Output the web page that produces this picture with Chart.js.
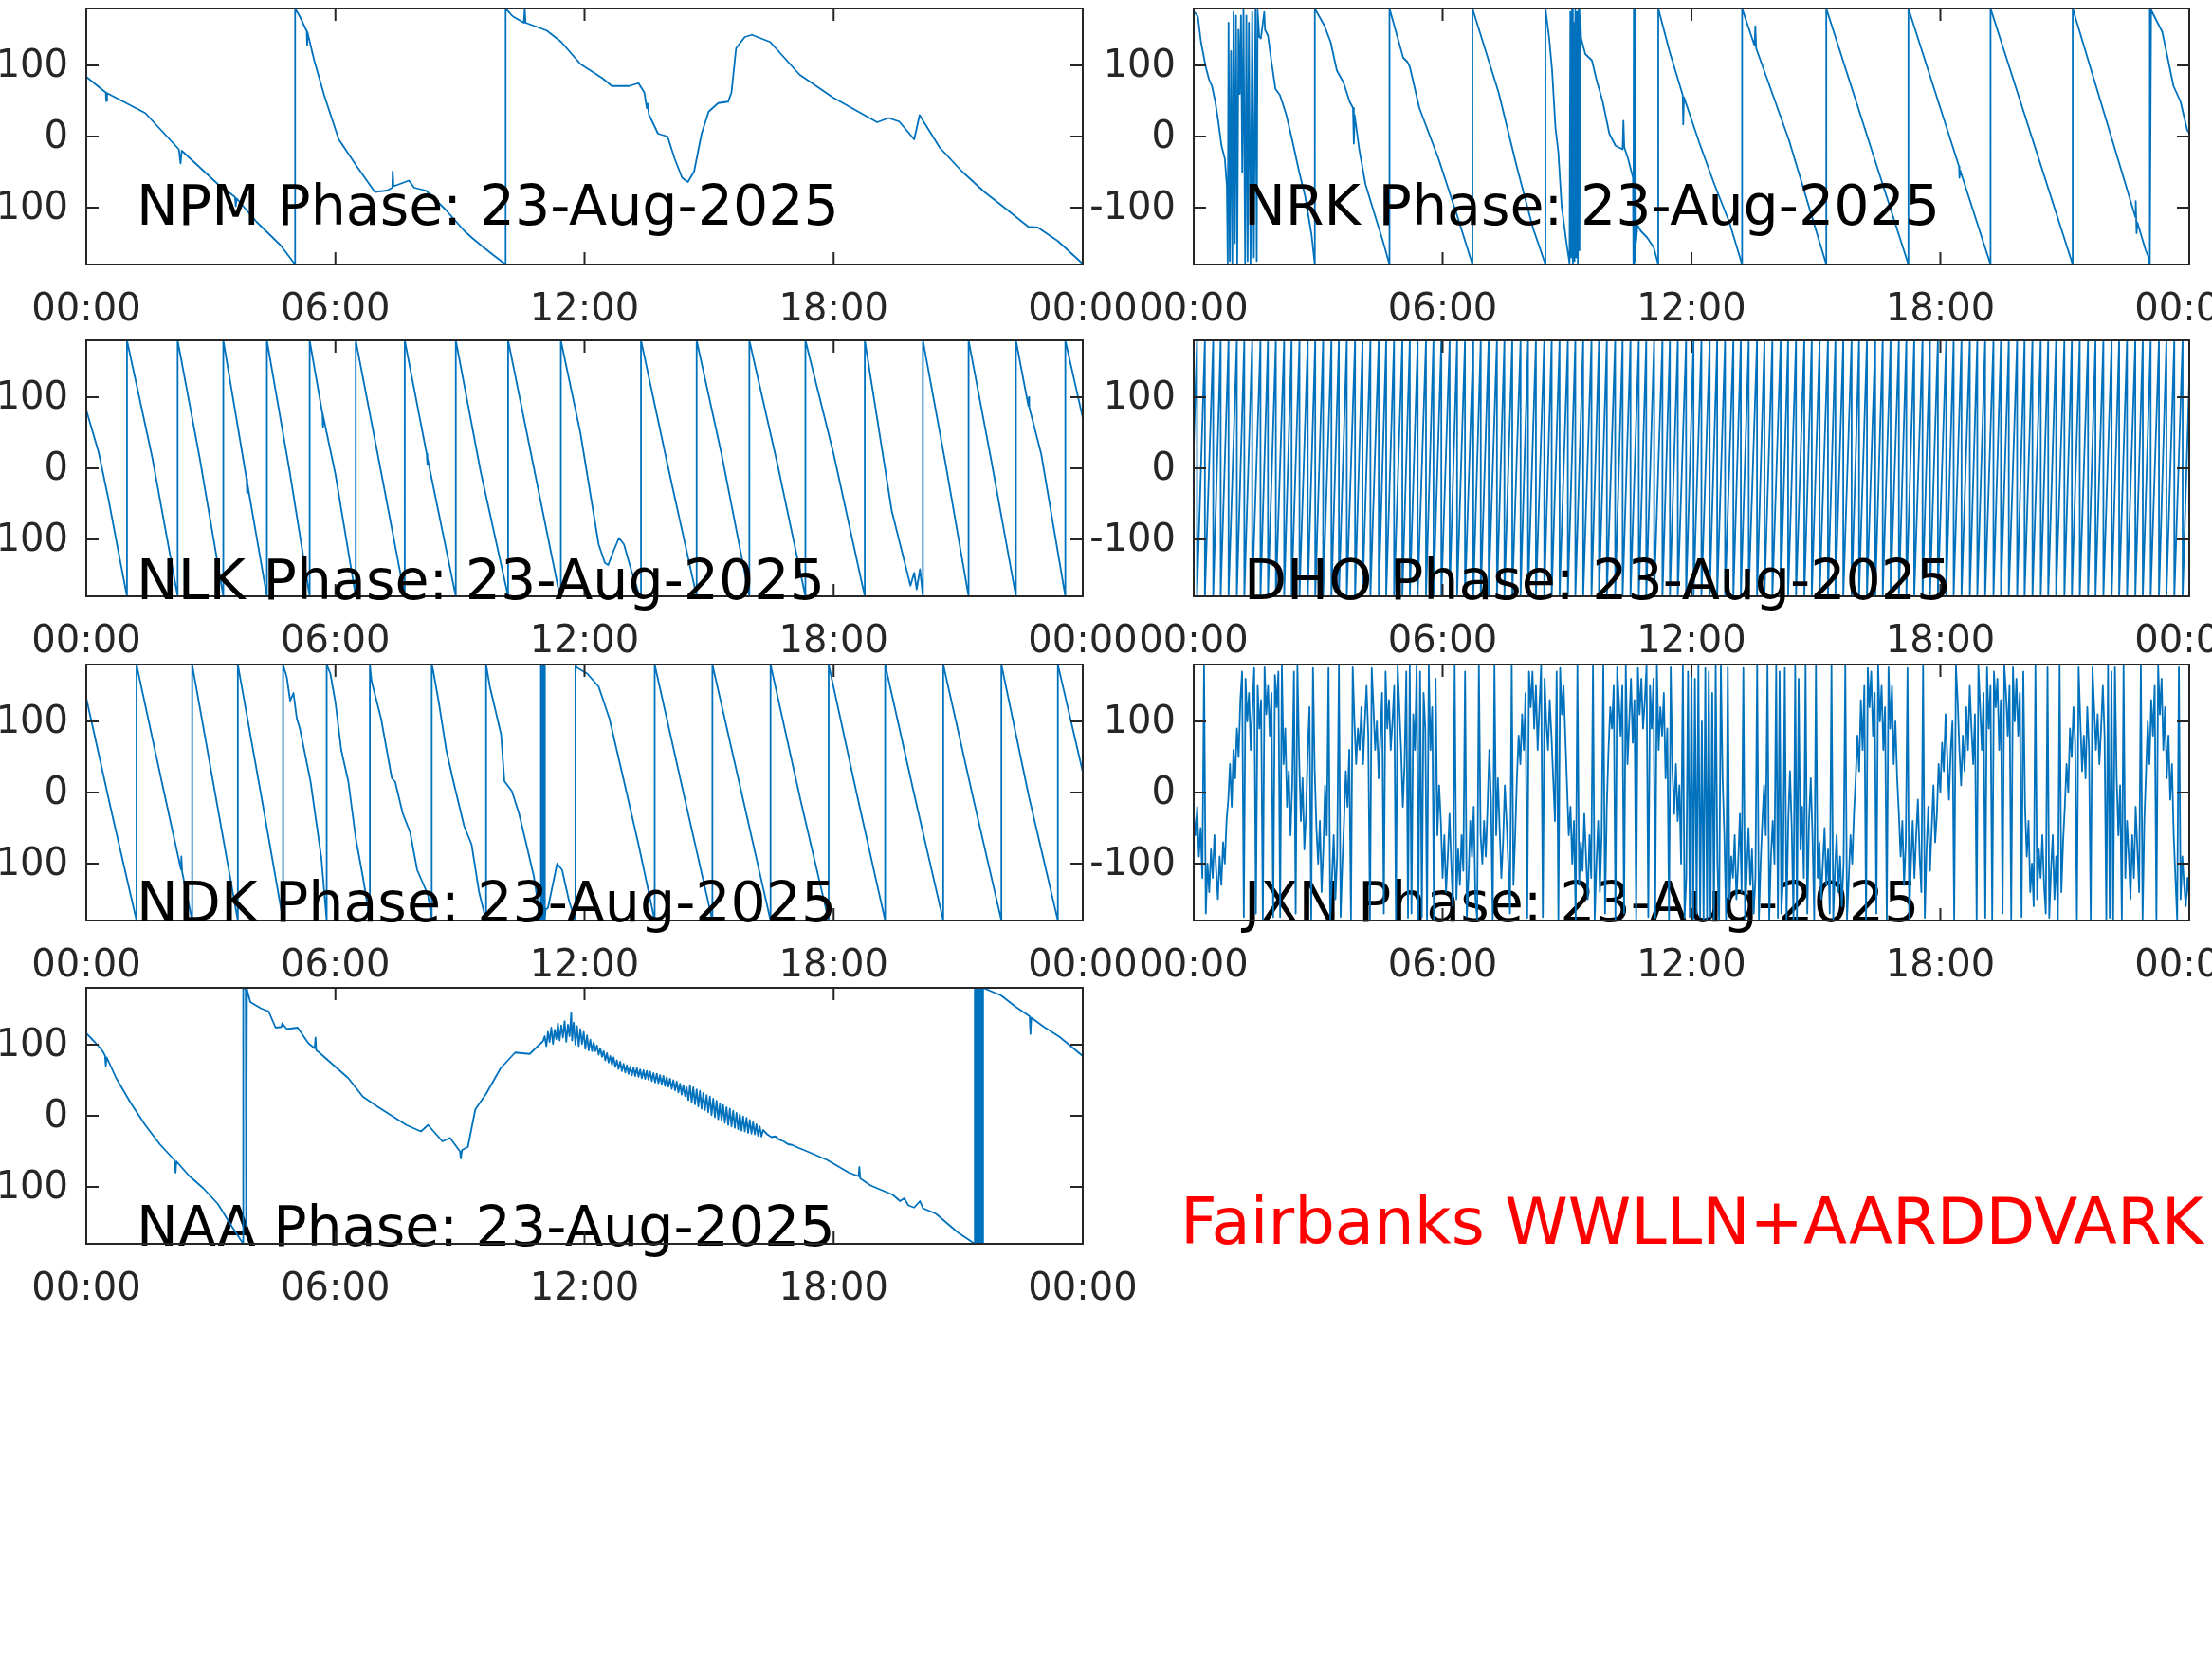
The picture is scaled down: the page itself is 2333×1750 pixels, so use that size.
<!DOCTYPE html>
<html>
<head>
<meta charset="utf-8">
<script src="https://cdn.jsdelivr.net/npm/chart.js@4.4.1/dist/chart.umd.min.js"></script>
<style>
html,body{margin:0;padding:0;overflow:hidden;background:#fff;}
body{width:2333px;height:1750px;position:relative;}
canvas{position:absolute;}
.ttl{position:absolute;font-family:'DejaVu Sans';font-size:58.6px;line-height:1;color:#000;white-space:nowrap;z-index:5;}
#site{position:absolute;font-family:'DejaVu Sans';font-size:67.3px;line-height:1;color:#ff0000;white-space:nowrap;left:1245px;top:1256px;}
</style>
</head>
<body>
<script>
// ---------------- data (hours UTC, phase in degrees) ----------------
const dateLabel = '23-Aug-2025';
const xTickValues = [0, 6, 12, 18, 24];
const xTickLabels = ['00:00', '06:00', '12:00', '18:00', '00:00'];
const yTickValues = [-100, 0, 100];
const yTickLabels = ['-100', '0', '100'];

const npm = [[0,84],[0.40,65],[0.47,62],[0.48,50],[0.50,61],[1.42,33],[2.23,-18],[2.27,-38],[2.30,-20],[3.17,-67],[3.58,-85],[3.60,-98],[3.62,-87],[4.10,-120],[4.68,-153],[5.03,-180],
[5.03,180],[5.15,168],[5.31,148],[5.32,128],[5.33,146],[5.49,107],[5.73,58],[6.08,-4],[6.54,-44],[6.95,-78],[7.24,-76],[7.37,-72],[7.38,-49],[7.40,-70],[7.77,-62],[7.90,-72],[8.18,-76],[8.64,-102],[9.11,-133],[9.28,-142],[9.57,-156],[9.81,-167],[10.10,-180],
[10.10,180],[10.27,169],[10.54,160],[10.56,180],[10.58,160],[11.09,149],[11.44,133],[11.90,102],[12.43,82],[12.66,71],[13.07,71],[13.30,75],[13.44,62],[13.50,40],[13.52,46],[13.55,31],[13.77,4],[14.00,0],[14.17,-31],[14.35,-58],[14.49,-64],[14.64,-49],[14.82,4],[14.99,35],[15.22,47],[15.46,49],[15.54,62],[15.65,124],[15.86,140],[16.03,143],[16.47,133],[17.18,87],[17.98,55],[19.05,20],[19.32,26],[19.58,21],[19.94,-4],[20.07,30],[20.56,-16],[21.09,-49],[21.63,-78],[22.07,-98],[22.69,-127],[22.92,-128],[23.40,-147],[23.98,-178],[24,-180]];

const nrk = [[0,176],[0.10,169],[0.175,133],[0.29,98],[0.37,80],[0.44,71],[0.52,49],[0.59,22],[0.67,-13],[0.75,-31],[0.80,-70],
[0.82,-178],[0.84,160],[0.87,-175],[0.90,120],[0.93,-178],[0.96,175],[0.99,-150],[1.02,170],[1.05,-178],[1.08,150],[1.11,60],[1.14,170],[1.17,-50],[1.20,178],[1.24,-178],[1.27,170],[1.30,-175],[1.33,160],[1.37,-178],[1.41,175],[1.45,-170],[1.49,178],[1.52,-175],[1.54,178],
[1.58,140],[1.62,138],[1.70,175],[1.72,150],[1.79,142],[1.87,107],[1.97,67],[2.08,58],[2.23,31],[2.39,-9],[2.54,-49],[2.69,-85],[2.84,-138],[2.92,-180],
[2.92,180],[3.15,156],[3.30,133],[3.45,93],[3.61,76],[3.76,49],[3.84,40],[3.86,-10],[3.88,30],[3.99,-18],[4.14,-67],[4.37,-111],[4.56,-147],[4.72,-180],
[4.72,180],[5.05,111],[5.15,105],[5.21,98],[5.44,40],[5.90,-31],[6.35,-111],[6.72,-180],
[6.72,180],[7.35,62],[7.80,-45],[8.18,-129],[8.48,-180],
[8.48,180],[8.57,138],[8.64,93],[8.72,13],[8.79,-22],[8.87,-98],[8.98,-147],[9.06,-178],
[9.08,175],[9.10,-170],[9.12,178],[9.14,-178],[9.16,160],[9.18,-175],[9.20,178],[9.22,-170],[9.24,175],[9.26,-178],[9.28,178],[9.30,-160],[9.32,170],
[9.34,138],[9.44,116],[9.60,107],[9.71,80],[9.86,49],[10.02,4],[10.17,-13],[10.34,-18],[10.36,22],[10.38,-15],[10.47,-31],[10.59,-58],
[10.60,-178],[10.61,178],[10.62,-178],[10.63,178],[10.64,-175],[10.65,175],[10.66,-150],[10.70,-125],[10.78,-133],[10.93,-142],[11.09,-156],[11.20,-180],
[11.20,180],[11.47,120],[11.79,58],[11.80,17],[11.82,55],[12.19,-9],[12.55,-67],[12.91,-120],[13.22,-180],
[13.22,180],[13.52,128],[13.54,155],[13.56,124],[14.35,-5],[15.25,-180],
[15.25,180],[17.23,-180],
[17.23,180],[18.45,-42],[18.46,-58],[18.48,-48],[19.21,-180],
[19.21,180],[21.19,-180],
[21.19,180],[22.70,-113],[22.71,-91],[22.73,-136],[22.75,-121],[22.95,-160],[23.02,-170],[23.04,-180],
[23.04,180],[23.06,-178],[23.08,178],[23.35,147],[23.62,71],[23.79,49],[23.95,9],[24,5]];

const nlk = [[0,82],[0.30,22],[0.54,-45],[0.75,-110],[0.98,-180],
[0.98,180],[1.59,15],[2.20,-180],
[2.20,180],[2.73,15],[3.30,-180],
[3.30,180],[3.86,-15],[3.87,-35],[3.88,-20],[4.35,-180],
[4.35,180],[4.90,-5],[5.38,-180],
[5.38,180],[5.69,76],[5.70,58],[5.71,72],[6.00,-8],[6.49,-180],
[6.49,180],[7.10,-5],[7.67,-180],
[7.67,180],[8.20,20],[8.21,5],[8.22,15],[8.90,-180],
[8.90,180],[9.50,-5],[10.16,-180],
[10.16,180],[10.80,-5],[11.40,-178],[11.43,-180],
[11.43,180],[11.90,50],[12.34,-107],[12.49,-133],[12.57,-136],[12.70,-116],[12.83,-98],[12.95,-107],[13.12,-142],[13.30,-175],[13.36,-180],
[13.36,180],[14.00,5],[14.70,-180],
[14.70,180],[15.30,20],[15.97,-180],
[15.97,180],[16.65,5],[17.32,-180],
[17.32,180],[18.00,20],[18.75,-180],
[18.75,180],[19.40,-60],[19.85,-165],[19.94,-147],[20.00,-170],[20.08,-142],[20.15,-180],
[20.15,180],[20.70,5],[21.25,-180],
[21.25,180],[21.80,10],[22.39,-180],
[22.39,180],[22.69,88],[22.70,100],[22.71,86],[23.00,20],[23.58,-180],
[23.58,180],[24,71]];

const dhoStartPhase = 30;
const dhoEndPhase = 123;
const dhoWrapTimes = [0.08,0.27,0.47,0.65,0.84,1.04,1.22,1.41,1.61,1.79,1.98,2.18,2.36,2.55,2.75,2.93,3.12,3.32,3.50,3.69,3.89,4.07,4.26,4.46,4.64,4.83,5.03,5.21,5.40,5.60,5.78,5.97,6.17,6.35,6.54,6.74,6.92,7.11,7.31,7.49,7.68,7.88,8.06,8.25,8.45,8.63,8.82,9.02,9.20,9.39,9.59,9.77,9.96,10.16,10.34,10.53,10.73,10.91,11.10,11.30,11.48,11.67,11.87,12.05,12.24,12.44,12.62,12.81,13.01,13.19,13.38,13.58,13.76,13.95,14.15,14.33,14.52,14.72,14.90,15.09,15.29,15.47,15.66,15.86,16.04,16.23,16.43,16.61,16.80,17.00,17.18,17.37,17.57,17.75,17.94,18.14,18.32,18.51,18.71,18.89,19.08,19.28,19.46,19.65,19.85,20.03,20.22,20.42,20.60,20.79,20.99,21.17,21.36,21.56,21.74,21.93,22.13,22.31,22.50,22.70,22.88,23.07,23.27,23.45,23.64,23.84];

const ndk = [[0,133],[0.60,-25],[1.21,-180],
[1.21,180],[1.80,20],[2.28,-108],[2.29,-90],[2.31,-112],[2.55,-180],
[2.55,180],[3.10,0],[3.65,-180],
[3.65,180],[4.20,0],[4.74,-180],
[4.74,180],[4.83,162],[4.91,129],[4.99,140],[5.07,104],[5.14,91],[5.40,16],[5.66,-91],[5.79,-180],
[5.79,180],[5.88,167],[6.00,127],[6.14,60],[6.31,16],[6.49,-64],[6.66,-118],[6.83,-180],
[6.83,180],[6.87,157],[7.10,104],[7.36,20],[7.44,15],[7.62,-29],[7.80,-56],[7.97,-109],[8.23,-144],[8.32,-180],
[8.32,180],[8.35,173],[8.49,127],[8.67,60],[8.84,16],[9.10,-47],[9.28,-73],[9.46,-140],[9.63,-180],
[9.63,180],[9.72,149],[9.99,82],[10.07,16],[10.25,2],[10.42,-29],[10.60,-73],[10.78,-118],[10.94,-180],
[10.94,180],[10.95,-178],[10.96,178],[10.97,-178],[10.98,178],[10.99,-178],[11.00,178],[11.01,-178],[11.02,178],[11.03,-178],[11.04,178],[11.05,-178],[11.06,-165],
[11.12,-162],[11.34,-100],[11.46,-109],[11.63,-153],[11.78,-180],
[11.78,180],[11.81,176],[12.07,167],[12.34,149],[12.60,104],[12.95,16],[13.30,-73],[13.56,-144],[13.69,-180],
[13.69,180],[14.40,-5],[15.08,-180],
[15.08,180],[15.80,-5],[16.48,-180],
[16.48,180],[17.20,-10],[17.88,-180],
[17.88,180],[18.55,0],[19.24,-180],
[19.24,180],[19.95,-5],[20.64,-180],
[20.64,180],[21.35,-5],[22.04,-180],
[22.04,180],[22.70,-5],[23.40,-180],
[23.40,180],[24,29]];

// JXN: 24 samples per hour
const jxnPhase = [
-30,-60,-20,-90,-50,-120,178,-170,-100,-140,-80,-120,-60,-110,-150,-90,-130,-70,-100,-40,-10,40,-20,60,
20,90,50,130,170,-175,160,100,140,60,120,175,-170,150,90,130,-178,176,110,150,80,140,-175,165,
120,170,-175,178,40,90,-20,30,-60,10,170,-170,178,50,-40,20,-80,-30,60,120,-178,175,30,-50,
-100,-40,-140,-80,10,-60,175,-178,-120,-60,-150,-90,178,-175,-100,-40,30,-20,60,-178,176,100,40,90,
60,120,40,100,150,80,-178,175,120,60,100,20,80,140,-170,170,90,130,60,100,150,-178,178,120,
60,-20,40,170,-176,178,-170,110,60,178,-178,170,-175,140,90,-178,178,60,120,-178,160,-60,10,-40,
-120,-60,-140,-90,-30,-100,-160,178,-150,-80,-130,-60,-110,170,-175,-120,-40,-90,-20,-150,-178,178,-60,-100,
-40,-90,-20,60,-10,-178,178,-60,20,-50,-120,-70,10,-40,-100,-170,178,-130,-60,20,80,40,110,60,
140,-176,170,120,170,90,150,60,120,178,-175,160,100,60,130,80,20,-40,170,-178,175,110,150,80,
10,-60,-20,-100,-40,-178,178,-130,-70,-110,-30,-90,-150,-60,-120,178,-178,-100,-40,-140,-60,178,-170,-20,
60,120,90,150,-178,176,130,80,150,-170,178,40,100,160,70,130,-178,175,110,160,90,130,178,-175,
150,90,160,-176,178,60,120,80,140,20,90,-178,176,30,-30,40,-40,10,-100,178,-176,-120,170,-175,
178,-178,160,-170,178,-175,100,-178,175,-178,170,-175,140,-178,178,-100,-178,178,20,-60,-178,176,-150,-90,
-120,-60,-150,-100,-30,-140,175,-178,-110,-50,-130,-80,-170,-120,178,-178,-100,-40,10,-60,178,-178,-90,-40,
-100,178,-176,170,-170,-120,175,-178,-40,30,-50,-178,178,-178,160,-80,-20,-120,178,-170,-40,20,-60,-178,
178,-120,-70,-150,-100,-50,-130,-80,-170,178,-178,-110,-60,-140,-90,-160,-100,178,-178,-120,-60,-100,-30,20,
80,30,130,60,150,-178,175,120,170,80,140,-170,178,100,150,60,120,-178,176,90,150,40,100,20,
-30,-90,-40,-130,-70,175,-178,-100,-40,-120,-60,-10,-90,-140,178,-176,-80,-20,-110,-50,10,-70,-30,40,
0,70,30,110,50,-10,60,100,-178,178,130,60,10,80,30,120,60,150,90,40,110,-178,178,120,
60,140,-176,176,90,150,-178,170,120,160,60,130,-170,178,140,80,150,-178,176,100,160,80,140,-175,
170,-20,-90,-40,-140,-100,-160,178,-150,-80,-120,-60,-130,-170,176,-176,-110,-60,-150,-90,-178,178,-140,-70,
-20,40,0,90,50,120,70,-178,176,100,30,80,20,120,60,-178,176,120,60,110,40,90,150,80,
-178,178,-176,170,-178,176,20,-60,10,-178,178,-120,-40,-90,-150,-60,-120,-20,-80,-140,178,-178,-40,30,
100,40,130,80,150,-178,178,110,160,60,120,20,80,-10,40,-60,-120,-178,176,-150,-90,-130,-160,-120,
-150];

const naa = [[0,116],[0.20,104],[0.37,93],[0.45,85],[0.47,70],[0.49,82],[0.54,76],[0.72,53],[1.07,18],[1.42,-13],[1.77,-40],[2.12,-62],[2.15,-80],[2.17,-64],[2.47,-84],[2.82,-102],[3.17,-124],[3.51,-156],[3.78,-180],
[3.78,180],[3.84,178],[3.85,-155],[3.87,178],[3.95,160],[4.21,151],[4.39,147],[4.56,124],[4.70,125],[4.72,130],[4.83,122],[5.09,124],[5.35,102],[5.50,95],[5.52,110],[5.54,92],[5.61,89],[5.96,71],[6.31,53],[6.66,27],[7.01,13],[7.36,0],[7.71,-13],[8.06,-22],[8.23,-13],[8.58,-36],[8.76,-31],[9.00,-50],[9.02,-60],[9.05,-48],[9.19,-44],[9.37,9],[9.63,31],[9.98,67],[10.33,89],[10.68,87],[11.00,105],
[11.04,112],[11.08,98],[11.12,118],[11.16,104],[11.20,124],[11.24,101],[11.28,121],[11.32,108],[11.36,130],[11.40,106],[11.44,127],[11.48,110],[11.52,133],[11.56,104],[11.60,128],[11.64,112],[11.68,145],[11.70,106],[11.74,131],[11.78,100],[11.82,126],[11.86,98],[11.90,122],[11.94,101],[11.98,118],[12.02,94],[12.06,113],[12.10,92],[12.14,107],[12.18,91],
[12.22,103],[12.26,91],[12.30,99],[12.34,86],[12.38,95],[12.42,83],[12.46,91],[12.50,78],[12.54,88],[12.58,75],[12.62,84],[12.66,72],[12.70,82],[12.74,69],[12.78,78],[12.82,66],[12.86,76],[12.90,63],[12.94,73],[12.98,61],[13.02,71],[13.06,59],[13.10,69],[13.14,57],[13.18,68],[13.22,56],[13.26,67],[13.30,55],[13.34,65],[13.38,53],[13.42,64],[13.46,52],[13.50,63],[13.54,51],[13.58,62],[13.62,49],[13.66,60],[13.70,47],[13.74,59],[13.78,46],[13.82,57],[13.86,44],[13.90,56],[13.94,42],[13.98,54],[14.02,41],[14.06,52],[14.10,38],[14.14,50],[14.18,36],[14.22,48],[14.26,33],[14.30,45],[14.34,30],[14.38,43],[14.42,28],[14.46,40],
[14.50,22],[14.54,43],[14.58,19],[14.62,40],[14.66,16],[14.70,37],[14.74,13],[14.78,35],[14.82,10],[14.86,32],[14.90,8],[14.94,29],[14.98,5],[15.02,27],[15.06,1],[15.10,24],[15.14,-2],[15.18,21],[15.22,-5],[15.26,17],[15.30,-7],[15.34,15],[15.38,-10],[15.42,12],[15.46,-13],[15.50,10],[15.54,-15],[15.58,7],[15.62,-17],[15.66,4],[15.70,-19],[15.74,2],[15.78,-21],[15.82,-1],[15.86,-22],[15.90,-3],[15.94,-24],[15.98,-6],[16.02,-25],[16.06,-9],[16.10,-26],[16.14,-12],[16.18,-28],[16.22,-15],[16.26,-29],[16.30,-20],
[16.40,-26],[16.50,-30],[16.60,-29],[16.70,-34],[16.80,-36],[16.90,-40],[17.00,-41],[17.15,-45],[17.32,-49],
[17.84,-62],[18.37,-80],[18.60,-85],[18.62,-72],[18.64,-88],[18.89,-98],[19.42,-111],[19.60,-120],[19.70,-116],[19.80,-126],[19.94,-129],[20.08,-120],[20.15,-130],[20.47,-138],[20.99,-164],[21.40,-180],
[21.40,180],[21.42,-180],[21.44,180],[21.46,-178],[21.48,180],[21.50,-179],[21.52,179],[21.54,-180],[21.56,180],[21.58,-178],[21.60,180],
[22.04,169],[22.39,153],[22.72,140],[22.74,115],[22.76,138],[23.09,124],[23.44,111],[24,84]];

// build DHO trace from its wrap times
const dho = [[0, dhoStartPhase]];
dhoWrapTimes.forEach(t => { dho.push([t, 180], [t, -180]); });
dho.push([24, dhoEndPhase]);
// JXN samples are evenly spaced over the day
const jxn = jxnPhase.map((v, i) => [i * 24 / (jxnPhase.length - 1), v]);

const panels = [
  {name: 'NPM', data: npm, col: 0, row: 0},
  {name: 'NRK', data: nrk, col: 1, row: 0},
  {name: 'NLK', data: nlk, col: 0, row: 1},
  {name: 'DHO', data: dho, col: 1, row: 1},
  {name: 'NDK', data: ndk, col: 0, row: 2},
  {name: 'JXN', data: jxn, col: 1, row: 2},
  {name: 'NAA', data: naa, col: 0, row: 3}
];

// ---------------- layout ----------------
const COL_LEFT = [91, 1259], COL_W = [1051, 1050];
const ROW_TOP = [9, 359, 701, 1042], PLOT_H = 270;
const TITLE_BASE = [238, 633, 973, 1315];
const YAX_W = 130, XAX_H = 70, PAD_T = 40, PAD_R = 100;
const LINE = '#0072BD', AXC = '#262626';
const FONT = 'DejaVu Sans';

const boxPlugin = {
  id: 'matlabBox',
  afterDatasetsDraw(chart) {
    const {ctx, chartArea: {left, right, top, bottom}, scales: {x, y}} = chart;
    ctx.save();
    ctx.strokeStyle = AXC;
    ctx.lineWidth = 2;
    ctx.strokeRect(left, top, right - left, bottom - top);
    ctx.beginPath();
    const L = 13;
    x.ticks.forEach(t => {
      const px = x.getPixelForValue(t.value);
      ctx.moveTo(px, bottom); ctx.lineTo(px, bottom - L);
      ctx.moveTo(px, top); ctx.lineTo(px, top + L);
    });
    y.ticks.forEach(t => {
      const py = y.getPixelForValue(t.value);
      ctx.moveTo(left, py); ctx.lineTo(left + L, py);
      ctx.moveTo(right, py); ctx.lineTo(right - L, py);
    });
    ctx.stroke();
    ctx.restore();
  }
};

function zeroPad(s) { s.paddingTop = 0; s.paddingBottom = 0; s.paddingLeft = 0; s.paddingRight = 0; }

panels.forEach((p, i) => {
  const cw = YAX_W + COL_W[p.col] + PAD_R;
  const ch = PAD_T + PLOT_H + XAX_H;
  const cv = document.createElement('canvas');
  cv.width = cw; cv.height = ch;
  cv.style.width = cw + 'px'; cv.style.height = ch + 'px';
  cv.style.left = (COL_LEFT[p.col] - YAX_W) + 'px';
  cv.style.top = (ROW_TOP[p.row] - PAD_T) + 'px';
  cv.style.zIndex = 1 + i;
  document.body.appendChild(cv);

  new Chart(cv, {
    type: 'line',
    data: {
      datasets: [{
        data: p.data.map(([x, y]) => ({x, y})),
        borderColor: LINE,
        borderWidth: 1.8,
        pointRadius: 0,
        tension: 0,
        fill: false,
        borderJoinStyle: 'round'
      }]
    },
    options: {
      responsive: false,
      animation: false,
      devicePixelRatio: 1,
      events: [],
      layout: {padding: {left: 0, top: PAD_T, right: PAD_R, bottom: 0}},
      plugins: {legend: {display: false}, tooltip: {enabled: false}, title: {display: false}},
      scales: {
        x: {
          type: 'linear', min: 0, max: 24,
          afterBuildTicks: s => { s.ticks = xTickValues.map(v => ({value: v})); },
          afterFit: s => { s.height = XAX_H; zeroPad(s); },
          grid: {display: false, drawTicks: false},
          border: {display: false},
          ticks: {
            padding: 25, maxRotation: 0, autoSkip: false, color: AXC,
            font: {family: FONT, size: 40},
            callback: (v, idx) => xTickLabels[idx]
          }
        },
        y: {
          type: 'linear', min: -180, max: 180,
          afterBuildTicks: s => { s.ticks = yTickValues.map(v => ({value: v})); },
          afterFit: s => { s.width = YAX_W; zeroPad(s); },
          grid: {display: false, drawTicks: false},
          border: {display: false},
          ticks: {
            padding: 19, labelOffset: 2, color: AXC,
            font: {family: FONT, size: 40},
            callback: (v, idx) => yTickLabels[idx]
          }
        }
      }
    },
    plugins: [boxPlugin]
  });

  const t = document.createElement('div');
  t.className = 'ttl';
  t.textContent = p.name + ' Phase: ' + dateLabel;
  t.style.left = (COL_LEFT[p.col] + 53) + 'px';
  t.style.top = (TITLE_BASE[p.row] - 50) + 'px';
  document.body.appendChild(t);
});

const site = document.createElement('div');
site.id = 'site';
site.textContent = 'Fairbanks WWLLN+AARDDVARK';
document.body.appendChild(site);
</script>
</body>
</html>
